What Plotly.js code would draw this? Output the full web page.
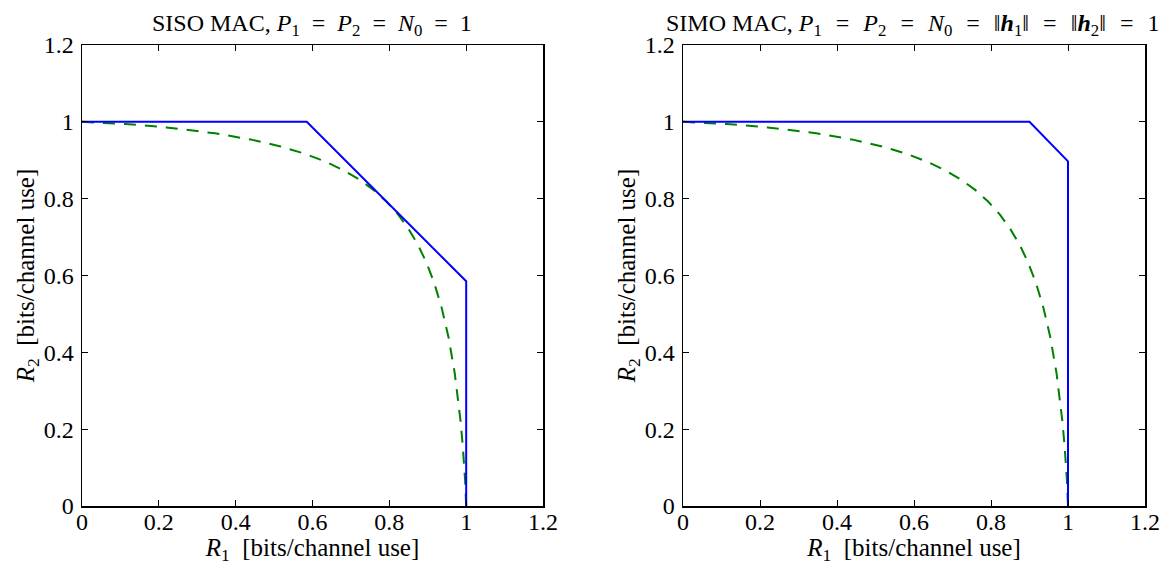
<!DOCTYPE html>
<html>
<head>
<meta charset="utf-8">
<script src="https://cdn.plot.ly/plotly-3.0.1.min.js"></script>
<style>html,body{margin:0;padding:0;background:#fff;}#chart{width:1174px;height:565px;}</style>
</head>
<body>
<div id="chart"></div>
<script>
// Capacity region (solid) – SISO MAC
const sisoCapR1 = [0, 0.585, 1, 1];
const sisoCapR2 = [1, 1, 0.585, 0];
// Capacity region (solid) – SIMO MAC
const simoCapR1 = [0, 0.9, 1, 1];
const simoCapR2 = [1, 1, 0.897, 0];
// TDMA-type region (dashed), same in both panels
const tdmaR1 = [0, 0.0666, 0.1134, 0.153, 0.2196, 0.3459, 0.4408, 0.517, 0.5805, 0.6346, 0.6816, 0.7229, 0.7596, 0.7925, 0.8222, 0.849, 0.8736, 0.8961, 0.9168, 0.9359, 0.9537, 0.9702, 0.9855, 0.9914, 0.9943, 0.9972, 1];
const tdmaR2 = [1, 0.9972, 0.9943, 0.9914, 0.9855, 0.9702, 0.9537, 0.9359, 0.9168, 0.8961, 0.8736, 0.849, 0.8222, 0.7925, 0.7596, 0.7229, 0.6816, 0.6346, 0.5805, 0.517, 0.4408, 0.3459, 0.2196, 0.153, 0.1134, 0.0666, 0];
const tickVals = [0, 0.2, 0.4, 0.6, 0.8, 1, 1.2];
const tickText = ["0", "0.2", "0.4", "0.6", "0.8", "1", "1.2"];
const EQ = "\u2002=\u2002";
const EQW = "\u2002\u200A=\u200A\u2002";
const titleLeft = "SISO MAC, <i>P</i><sub>1</sub>" + EQ + "<i>P</i><sub>2</sub>" + EQ + "<i>N</i><sub>0</sub>" + EQ + "1";
const titleRight = "SIMO MAC, <i>P</i><sub>1</sub>" + EQW + "<i>P</i><sub>2</sub>" + EQW + "<i>N</i><sub>0</sub>" + EQW + "‖<b><i>h</i></b><sub>1</sub>‖" + EQW + "‖<b><i>h</i></b><sub>2</sub>‖" + EQW + "1";
const xTitle = "<i>R</i><sub>1</sub>\u2002[bits/channel use]";
const yTitle = "<i>R</i><sub>2</sub>\u2002[bits/channel use]";

const FAMILY = "Liberation Serif";
function fnt(size) { return {family: FAMILY, size: size, color: "#000000"}; }
const blue = "rgb(0,0,255)", green = "rgb(0,128,0)";

const traces = [
  {x: tdmaR1, y: tdmaR2, xaxis: "x", yaxis: "y", mode: "lines", line: {color: green, width: 2, dash: "12px,9px"}, hoverinfo: "skip"},
  {x: sisoCapR1, y: sisoCapR2, xaxis: "x", yaxis: "y", mode: "lines", line: {color: blue, width: 2}, hoverinfo: "skip"},
  {x: tdmaR1, y: tdmaR2, xaxis: "x2", yaxis: "y2", mode: "lines", line: {color: green, width: 2, dash: "12px,9px"}, hoverinfo: "skip"},
  {x: simoCapR1, y: simoCapR2, xaxis: "x2", yaxis: "y2", mode: "lines", line: {color: blue, width: 2}, hoverinfo: "skip"}
];

function ax(extra) {
  return Object.assign({
    range: [0, 1.2], tickmode: "array", tickvals: tickVals, ticktext: tickText,
    showline: true, mirror: "ticks", linecolor: "#000000", linewidth: 1.5,
    ticks: "inside", ticklen: 6, tickwidth: 1, tickcolor: "#000000",
    showgrid: false, zeroline: false, tickfont: fnt(24), fixedrange: true
  }, extra);
}

const layout = {
  width: 1174, height: 565,
  margin: {l: 82, r: 29, t: 45, b: 59},
  paper_bgcolor: "#ffffff", plot_bgcolor: "#ffffff",
  showlegend: false, font: fnt(24),
  xaxis: ax({domain: [0, 0.4337], anchor: "y", ticklabelstandoff: -6, title: {text: xTitle, font: fnt(25), standoff: 4}}),
  yaxis: ax({domain: [0, 1], anchor: "x", ticklabelstandoff: 2, title: {text: yTitle, font: fnt(25), standoff: 2}}),
  xaxis2: ax({domain: [0.5654, 1], anchor: "y2", ticklabelstandoff: -6, title: {text: xTitle, font: fnt(25), standoff: 4}}),
  yaxis2: ax({domain: [0, 1], anchor: "x2", ticklabelstandoff: 2, title: {text: yTitle, font: fnt(25), standoff: 2}}),
  annotations: [
    {text: titleLeft, xref: "paper", yref: "paper", x: 0.2168, xanchor: "center", y: 1, yanchor: "bottom", yshift: 3, showarrow: false, font: fnt(24)},
    {text: titleRight, xref: "paper", yref: "paper", x: 0.781, xanchor: "center", y: 1, yanchor: "bottom", yshift: 3, showarrow: false, font: fnt(24)}
  ]
};

Plotly.newPlot("chart", traces, layout, {staticPlot: true, displayModeBar: false});
</script>
</body>
</html>
